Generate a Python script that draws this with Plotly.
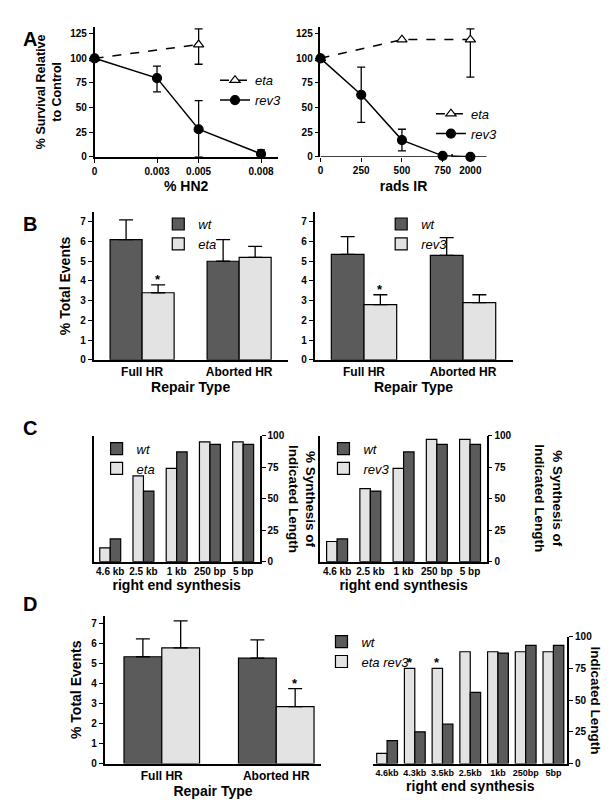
import plotly.graph_objects as go

# ---- panel A data ----
hn2_x = [0, 0.003, 0.005, 0.008]
hn2_rev3 = [100, 80, 28, 3]
hn2_rev3_hi = [0, 12, 29, 4]
hn2_rev3_lo = [0, 14, 28, 3]
hn2_eta_x = [0, 0.005]
hn2_eta = [100, 114]
hn2_eta_hi = [0, 16]
hn2_eta_lo = [0, 20]

ir_x = [0, 250, 500, 750, 2000]
ir_rev3 = [100, 63, 17, 1, 0]
ir_rev3_hi = [0, 28, 11, 0, 0]
ir_rev3_lo = [0, 28, 11, 0, 0]
ir_eta_x = [0, 500, 2000]
ir_eta = [100, 119, 119]
ir_eta_hi = [0, 0, 11]
ir_eta_lo = [0, 0, 38]
ir_ticks = [0, 250, 500, 750, 2000]

# ---- panel B / D-left data ----
repair = ["Full HR", "Aborted HR"]
b1_wt, b1_wt_err = [6.1, 5.0], [1.0, 1.1]
b1_eta, b1_eta_err = [3.4, 5.2], [0.4, 0.55]
b2_wt, b2_wt_err = [5.35, 5.3], [0.9, 0.9]
b2_rev3, b2_rev3_err = [2.8, 2.9], [0.5, 0.4]
d1_wt, d1_wt_err = [5.35, 5.28], [0.9, 0.92]
d1_er, d1_er_err = [5.8, 2.85], [1.35, 0.9]

# ---- panel C / D-right data ----
lengths5 = ["4.6 kb", "2.5 kb", "1 kb", "250 bp", "5 bp"]
c1_eta = [11, 68, 74, 95, 95]
c1_wt = [18, 56, 87, 93, 93]
c2_rev3 = [16, 58, 74, 97, 97]
c2_wt = [18, 56, 87, 93, 93]
lengths7 = ["4.6kb", "4.3kb", "3.5kb", "2.5kb", "1kb", "250bp", "5bp"]
d2_er = [8, 75, 75, 88, 88, 88, 88]
d2_wt = [18, 25, 31, 56, 87, 93, 93]

DARK = "#5b5b5b"
LIGHT = "#e3e3e3"
FONT = "Liberation Sans"
W, H = 614, 800


def px_x(a, b):
    return [a / W, b / W]


def px_y(top, bottom):
    return [1 - bottom / H, 1 - top / H]


def brk(vals):
    # axis break: 2000 rads drawn right after the 750 segment
    return [v if v <= 850 else 920 + (v - 2000) for v in vals]


fig = go.Figure()


def line_trace(x, y, hi, lo, name, sym, fill, dash, xa, ya, legend):
    fig.add_trace(go.Scatter(
        x=x, y=y, name=name, mode="lines+markers", xaxis=xa, yaxis=ya,
        legend=legend, cliponaxis=False,
        line=dict(color="black", width=1.5, dash=dash),
        marker=dict(symbol=sym, size=9, color=fill, line=dict(color="black", width=1.2)),
        error_y=dict(type="data", array=hi, arrayminus=lo, symmetric=False,
                     color="black", thickness=1.3, width=4),
    ))


line_trace(hn2_eta_x, hn2_eta, hn2_eta_hi, hn2_eta_lo, "<i>eta</i>", "triangle-up", "white", "dash", "x", "y", "legend")
line_trace(hn2_x, hn2_rev3, hn2_rev3_hi, hn2_rev3_lo, "<i>rev3</i>", "circle", "black", "solid", "x", "y", "legend")
line_trace(brk(ir_eta_x), ir_eta, ir_eta_hi, ir_eta_lo, "<i>eta</i>", "triangle-up", "white", "dash", "x2", "y2", "legend2")
line_trace(brk(ir_x), ir_rev3, ir_rev3_hi, ir_rev3_lo, "<i>rev3</i>", "circle", "black", "solid", "x2", "y2", "legend2")


def bar(y, err, name, color, xa, ya, legend, w, side, show=True):
    xs = [i + side * w / 2 for i in range(len(y))]
    fig.add_trace(go.Bar(
        x=xs, y=y, name=name, xaxis=xa, yaxis=ya, legend=legend, width=w, showlegend=show,
        marker=dict(color=color, line=dict(color="black", width=1.2)),
        error_y=None if err is None else dict(type="data", array=err, arrayminus=[0] * len(err),
                                              symmetric=False, color="black", thickness=1.3, width=7),
    ))
    return xs


b1x = bar(b1_wt, b1_wt_err, "<i>wt</i>", DARK, "x3", "y3", "legend3", 0.33, -1)
b1ex = bar(b1_eta, b1_eta_err, "<i>eta</i>", LIGHT, "x3", "y3", "legend3", 0.33, 1)
bar(b2_wt, b2_wt_err, "<i>wt</i>", DARK, "x4", "y4", "legend4", 0.33, -1)
b2rx = bar(b2_rev3, b2_rev3_err, "<i>rev3</i>", LIGHT, "x4", "y4", "legend4", 0.33, 1)
bar(c1_eta, None, "<i>eta</i>", LIGHT, "x5", "y5", "legend5", 0.315, -1)
bar(c1_wt, None, "<i>wt</i>", DARK, "x5", "y5", "legend5", 0.315, 1)
bar(c2_rev3, None, "<i>rev3</i>", LIGHT, "x6", "y6", "legend6", 0.315, -1)
bar(c2_wt, None, "<i>wt</i>", DARK, "x6", "y6", "legend6", 0.315, 1)
bar(d1_wt, d1_wt_err, "<i>wt</i>", DARK, "x7", "y7", "legend7", 0.33, -1, show=False)
d1ex = bar(d1_er, d1_er_err, "<i>eta rev3</i>", LIGHT, "x7", "y7", "legend7", 0.33, 1, show=False)
d2ex = bar(d2_er, None, "<i>eta rev3</i>", LIGHT, "x8", "y8", "legend7", 0.375, -1)
bar(d2_wt, None, "<i>wt</i>", DARK, "x8", "y8", "legend7", 0.375, 1)

tickfont = dict(family=FONT, size=10, color="black", weight="bold")
titlefont = dict(family=FONT, size=14, color="black", weight="bold")
ax = dict(showline=True, linecolor="black", linewidth=1.5, ticks="outside", ticklen=4,
          tickwidth=1.3, tickcolor="black", showgrid=False, zeroline=False, tickfont=tickfont,
          title_font=titlefont)
catfont = dict(tickfont, size=12)

layout = dict(
    width=W, height=H, margin=dict(l=0, r=0, t=0, b=0),
    paper_bgcolor="white", plot_bgcolor="white", barmode="overlay",
    font=dict(family=FONT, color="black"),
    xaxis=dict(ax, domain=px_x(84, 268), range=[0, 0.0088], tickvals=hn2_x,
               ticktext=["0", "0.003", "0.005", "0.008"], anchor="y",
               title=dict(text="% HN2", standoff=6)),
    yaxis=dict(ax, domain=px_y(13, 145), range=[0, 132], tickvals=[0, 25, 50, 75, 100, 125],
               anchor="x", title=dict(text="% Survival Relative<br>to Control", standoff=6,
                                      font=dict(titlefont, size=12.5))),
    xaxis2=dict(ax, showline=False, domain=px_x(311, 478), range=[0, 1020],
                tickvals=brk(ir_ticks), ticktext=[str(t) for t in ir_ticks], anchor="y2",
                title=dict(text="rads IR", standoff=6)),
    yaxis2=dict(ax, domain=px_y(13, 145), range=[0, 132], tickvals=[0, 25, 50, 75, 100, 125],
                anchor="x2"),
    xaxis3=dict(ax, domain=px_x(83, 278), range=[-0.5, 1.5], anchor="y3", ticklen=0,
                tickvals=[0, 1], ticktext=repair, tickfont=catfont,
                title=dict(text="Repair Type", standoff=2)),
    yaxis3=dict(ax, domain=px_y(201, 351), range=[0, 7.5], dtick=1, anchor="x3",
                title=dict(text="% Total Events", standoff=6)),
    xaxis4=dict(ax, domain=px_x(305, 504), range=[-0.5, 1.5], anchor="y4", ticklen=0,
                tickvals=[0, 1], ticktext=repair, tickfont=catfont,
                title=dict(text="Repair Type", standoff=2)),
    yaxis4=dict(ax, domain=px_y(201, 351), range=[0, 7.5], dtick=1, anchor="x4"),
    xaxis5=dict(ax, domain=px_x(83, 250), range=[-0.5, 4.5], anchor="y5", ticklen=0,
                tickvals=list(range(5)), ticktext=lengths5,
                title=dict(text="right end synthesis", standoff=2)),
    yaxis5=dict(ax, domain=px_y(428, 556), range=[0, 100], dtick=25, side="right", mirror=True,
                anchor="x5"),
    xaxis6=dict(ax, domain=px_x(311, 478), range=[-0.5, 4.5], anchor="y6", ticklen=0,
                tickvals=list(range(5)), ticktext=lengths5,
                title=dict(text="right end synthesis", standoff=2)),
    yaxis6=dict(ax, domain=px_y(428, 556), range=[0, 100], dtick=25, side="right", mirror=True,
                anchor="x6"),
    xaxis7=dict(ax, domain=px_x(94, 312), range=[-0.5, 1.395], anchor="y7", ticklen=0,
                tickvals=[0, 1], ticktext=repair, tickfont=catfont,
                title=dict(text="Repair Type", standoff=2)),
    yaxis7=dict(ax, domain=px_y(611, 761), range=[0, 7.4], dtick=1, anchor="x7",
                title=dict(text="% Total Events", standoff=6)),
    xaxis8=dict(ax, domain=px_x(364, 559), range=[-0.5, 6.5], anchor="y8", ticklen=0,
                tickvals=list(range(7)), ticktext=lengths7, tickfont=dict(tickfont, size=9),
                title=dict(text="right end synthesis", standoff=4)),
    yaxis8=dict(ax, domain=px_y(632, 761), range=[0, 100], dtick=25, side="right",
                anchor="x8"),
)

legfont = dict(family=FONT, size=13, color="black")
leg = dict(bgcolor="rgba(0,0,0,0)", font=legfont, tracegroupgap=0, itemwidth=30,
           xanchor="left", yanchor="top")
for key, (lx, ly, rev) in {
    "legend": (205, 52, False), "legend2": (422, 86, False),
    "legend3": (148, 198, False), "legend4": (372, 198, False),
    "legend5": (86, 426, True), "legend6": (314, 426, True),
    "legend7": (312, 622, True),
}.items():
    layout[key] = dict(leg, x=lx / W, y=1 - ly / H,
                       traceorder="reversed" if rev else "normal")

fig.update_layout(**layout)

# axis break for rads IR
fig.add_shape(type="line", xref="x2", yref="y2", x0=0, x1=770, y0=0, y1=0,
              line=dict(color="black", width=1.5))
fig.add_shape(type="line", xref="x2", yref="y2", x0=808, x1=1020, y0=0, y1=0,
              line=dict(color="black", width=1.5))
for bx in (770, 808):
    fig.add_shape(type="line", xref="x2", yref="y2", x0=bx, x1=bx, y0=-3, y1=3,
                  line=dict(color="black", width=1.5))

# y titles on the right for synthesis panels
for xp, yp in ((292, 492), (540, 492), (596, 697)):
    fig.add_annotation(x=xp / W, y=1 - yp / H, xref="paper", yref="paper", showarrow=False,
                       xanchor="center", yanchor="middle",
                       text="% Synthesis of<br>Indicated Length", textangle=90,
                       font=dict(family=FONT, size=13.5, color="black", weight="bold"))

# significance stars
star = dict(showarrow=False, text="*", font=dict(family=FONT, size=13, color="black", weight="bold"),
            yanchor="bottom", yshift=-4)
fig.add_annotation(star, x=b1ex[0], y=b1_eta[0] + b1_eta_err[0], xref="x3", yref="y3")
fig.add_annotation(star, x=b2rx[0], y=b2_rev3[0] + b2_rev3_err[0], xref="x4", yref="y4")
fig.add_annotation(star, x=d1ex[1], y=d1_er[1] + d1_er_err[1], xref="x7", yref="y7")
for i in (1, 2):
    fig.add_annotation(star, x=d2ex[i], y=d2_er[i], xref="x8", yref="y8")

# panel letters
for letter, ly in (("A", 12), ("B", 200), ("C", 420), ("D", 612)):
    fig.add_annotation(x=10 / W, y=1 - ly / H, xref="paper", yref="paper", showarrow=False,
                       text=letter, font=dict(family=FONT, size=20, color="black", weight="bold"))

fig.write_html("out.html")
